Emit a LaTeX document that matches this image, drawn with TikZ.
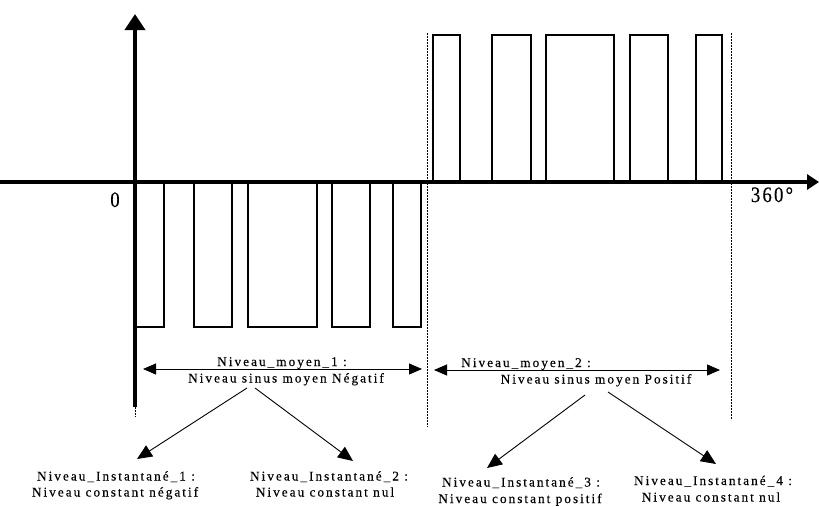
\documentclass[tikz,border=0pt]{standalone}
\usepackage{fontspec}
\setmainfont{Liberation Serif}
\newfontfamily\lblfont[LetterSpace=15,FakeBold=0.3]{Liberation Serif}
\newfontfamily\numfont[FakeStretch=0.85,LetterSpace=10,FakeBold=0.4]{Liberation Serif}
\usetikzlibrary{arrows.meta}
\begin{document}
\begin{tikzpicture}[x=1pt,y=-1pt,
  axisarrow/.style={line width=3.6pt,-{Triangle[length=16pt,width=20pt]}},
  xaxisarrow/.style={line width=3.6pt,-{Triangle[length=12pt,width=15pt]}},
  pulse/.style={line width=1.4pt,line join=miter},
  sepline/.style={line width=1pt,dash pattern=on 2pt off 1pt},
  span/.style={line width=0.9pt,{Triangle[length=13pt,width=11pt]}-{Triangle[length=13pt,width=11pt]}},
  diag/.style={line width=0.9pt,-{Triangle[length=15pt,width=13pt]}},
  lbl/.style={font=\lblfont\fontsize{13.3}{16}\selectfont,anchor=base,inner sep=0pt},
  numlbl/.style={font=\numfont\fontsize{22}{24}\selectfont,anchor=base,inner sep=0pt}]
\useasboundingbox (0,0) rectangle (819,506);

% separators (dotted)
\coordinate (s1t) at (427,33);
\coordinate (s1b) at (427,427);
\coordinate (s2t) at (731,33);
\coordinate (s2b) at (731,420);
\draw[sepline] (s1t) -- (s1b);
\draw[sepline] (s2t) -- (s2b);
\coordinate (ya) at (135,407);
\coordinate (yb) at (135,417);
\draw[sepline] (ya) -- (yb);

% negative pulses
\foreach \a/\b in {136/164,194/232,248/317,332/370,393/421}{
  \draw[pulse] (\a,182) -- (\a,327) -- (\b,327) -- (\b,182);
}
% positive pulses
\foreach \a/\b in {433/460,492/531,546/614,630/668,696/722}{
  \draw[pulse] (\a,182) -- (\a,35) -- (\b,35) -- (\b,182);
}

% axes
\coordinate (xo) at (0,182);
\coordinate (xe) at (819,182);
\coordinate (ytop) at (135,14);
\draw[xaxisarrow] (xo) -- (xe);
\draw[axisarrow] (ya) -- (ytop);

\node[numlbl] (zero) at (115,207) {0};
\node[numlbl] (deg) at (772,202) {360°};

% average level spans
\coordinate (a1l) at (143,369);
\coordinate (a1r) at (422,369);
\coordinate (a2l) at (434,370);
\coordinate (a2r) at (720,370);
\draw[span] (a1l) -- (a1r);
\draw[span] (a2l) -- (a2r);
\node[lbl] (m1a) at (282,366) {Niveau\_moyen\_1 :};
\node[lbl] (m1b) at (286,382.5) {Niveau sinus moyen Négatif};
\node[lbl] (m2a) at (526,367) {Niveau\_moyen\_2 :};
\node[lbl] (m2b) at (596,383.5) {Niveau sinus moyen Positif};

% instantaneous levels
\node[lbl] (i1a) at (116,480.5) {Niveau\_Instantané\_1 :};
\node[lbl] (i1b) at (115,496.5) {Niveau constant négatif};
\node[lbl] (i2a) at (329,480.5) {Niveau\_Instantané\_2 :};
\node[lbl] (i2b) at (325,496.5) {Niveau constant nul};
\node[lbl] (i3a) at (521,486.5) {Niveau\_Instantané\_3 :};
\node[lbl] (i3b) at (520,503) {Niveau constant positif};
\node[lbl] (i4a) at (713,485) {Niveau\_Instantané\_4 :};
\node[lbl] (i4b) at (711,501.5) {Niveau constant nul};

\coordinate (d1s) at (247,388);
\coordinate (d1e) at (137,459);
\coordinate (d2s) at (255,388);
\coordinate (d2e) at (353,461);
\coordinate (d3s) at (585,395);
\coordinate (d3e) at (487,468);
\coordinate (d4s) at (608,392);
\coordinate (d4e) at (716,464);
\draw[diag] (d1s) -- (d1e);
\draw[diag] (d2s) -- (d2e);
\draw[diag] (d3s) -- (d3e);
\draw[diag] (d4s) -- (d4e);
\end{tikzpicture}
\end{document}
